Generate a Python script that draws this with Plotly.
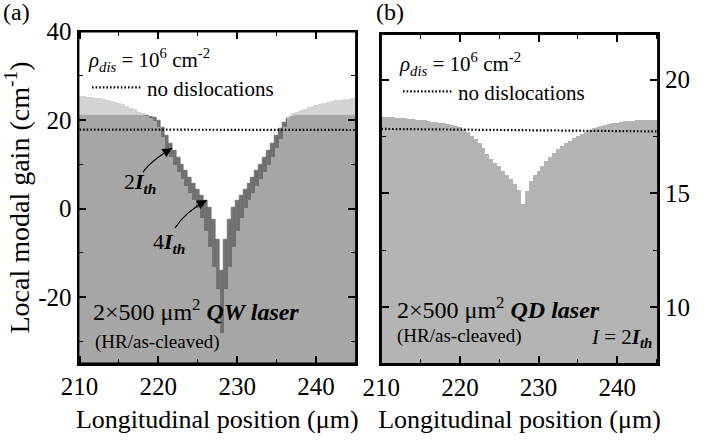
import plotly.graph_objects as go

# ---------------- data ----------------
pos = [210.0 + 0.5 * i for i in range(71)]  # bin centres (µm), 0.5 µm bins

gain_qw_2ith = [
    21.1, 21.1, 21.1, 21.1, 21.1, 21.1, 21.1, 21.1, 21.1, 21.1,   # 210-214.5
    21.1, 21.1, 21.1, 21.1, 21.1, 21.0, 21.0, 21.0, 20.9, 20.6,   # 215-219.5
    19.8, 18.4, 16.6, 14.8, 13.2, 11.6, 10.0, 8.5, 7.0, 5.6,      # 220-224.5
    4.3, 3.0, 1.8, 0.2, -2.5, -7.0, -14.0, -7.0, -2.5, 0.2,       # 225-229.5
    1.8, 3.0, 4.3, 5.6, 7.0, 8.5, 10.0, 11.6, 13.2, 14.8,         # 230-234.5
    16.4, 18.0, 19.4, 20.3, 20.8, 21.0, 21.0, 21.0, 21.0, 21.0,   # 235-239.5
    21.0, 21.0, 21.0, 21.0, 21.0, 21.0, 21.0, 21.0, 21.0, 21.0,   # 240-244.5
    21.0,                                                         # 245
]
gain_qw_4ith = [
    25.5, 25.5, 25.4, 25.3, 25.2, 25.0, 24.9, 24.7, 24.5, 24.3,   # 210-214.5
    24.0, 23.7, 23.3, 22.9, 22.5, 22.0, 21.6, 21.1, 20.6, 20.0,   # 215-219.5
    18.6, 16.2, 13.9, 11.8, 10.0, 8.3, 6.7, 5.1, 3.6, 2.0,        # 220-224.5
    0.3, -2.0, -5.0, -8.5, -13.0, -18.0, -28.0, -18.0, -13.0, -8.5,  # 225-229.5
    -5.0, -2.0, 0.3, 2.0, 3.6, 5.1, 6.7, 8.3, 10.0, 11.8,         # 230-234.5
    13.7, 15.8, 18.5, 21.0, 21.6, 22.0, 22.3, 22.6, 23.0, 23.3,   # 235-239.5
    23.5, 23.8, 24.0, 24.2, 24.4, 24.6, 24.7, 24.8, 24.9, 25.0,   # 240-244.5
    25.1,                                                         # 245
]
gain_qd_2ith = [
    18.38, 18.37, 18.36, 18.35, 18.33, 18.32, 18.30, 18.28, 18.26, 18.24,  # 210-214.5
    18.22, 18.20, 18.17, 18.15, 18.12, 18.10, 18.07, 18.04, 18.01, 17.97,  # 215-219.5
    17.92, 17.84, 17.70, 17.53, 17.37, 17.19, 17.00, 16.73, 16.52, 16.35,  # 220-224.5
    16.18, 16.00, 15.82, 15.65, 15.40, 15.13, 14.54, 15.10, 15.55, 15.80,  # 225-229.5
    16.00, 16.20, 16.40, 16.59, 16.78, 16.94, 17.07, 17.20, 17.32, 17.42,  # 230-234.5
    17.51, 17.60, 17.70, 17.79, 17.86, 17.92, 17.97, 18.01, 18.05, 18.08,  # 235-239.5
    18.11, 18.14, 18.16, 18.18, 18.19, 18.20, 18.21, 18.22, 18.23, 18.24,  # 240-244.5
    18.24,                                                                 # 245
]
nodis_pos = [210.0, 227.5, 245.0]
nodis_qw = [17.85, 17.8, 17.75]
nodis_qd = [17.83, 17.78, 17.72]

xtick_vals = [210, 220, 230, 240]
xtick_text = ["210", "220", "230", "240"]
ya_tick_vals = [-20, 0, 20, 40]
ya_tick_text = ["-20", "0", "20", "40"]
yb_tick_vals = [10, 15, 20]
yb_tick_text = ["10", "15", "20"]

YA_RANGE = [-35, 40]
YB_RANGE = [7.5, 22]
XA_RANGE = [209.87, 245.08]
XB_RANGE = [209.96, 245.2]

FONT = "Times New Roman, Liberation Serif, serif"
W, H = 715, 440
ML, MR, MT, MB = 78, 57, 31, 76
PW, PH = W - ML - MR, H - MT - MB

fig = go.Figure()

# panel (a): 2 I_th bars (dark), 4 I_th bars (translucent light) on top
fig.add_trace(go.Bar(
    x=pos, y=[v - YA_RANGE[0] for v in gain_qw_2ith], base=YA_RANGE[0], width=0.5,
    marker=dict(color="rgb(116,116,116)", line=dict(color="rgb(98,98,98)", width=0.6)),
    xaxis="x", yaxis="y", showlegend=False, hoverinfo="skip"))
fig.add_trace(go.Bar(
    x=pos, y=[v - YA_RANGE[0] for v in gain_qw_4ith], base=YA_RANGE[0], width=0.5,
    marker=dict(color="rgb(192,192,192)", line=dict(width=0)), opacity=0.68,
    xaxis="x", yaxis="y", showlegend=False, hoverinfo="skip"))
fig.add_trace(go.Scatter(
    x=nodis_pos, y=nodis_qw, mode="lines", name="no dislocations",
    line=dict(color="black", width=2.2, dash="1.6px,2px"),
    xaxis="x", yaxis="y", legend="legend", hoverinfo="skip"))

# panel (b)
fig.add_trace(go.Bar(
    x=pos, y=[v - YB_RANGE[0] for v in gain_qd_2ith], base=YB_RANGE[0], width=0.5,
    marker=dict(color="rgb(180,180,180)", line=dict(width=0)),
    xaxis="x2", yaxis="y2", showlegend=False, hoverinfo="skip"))
fig.add_trace(go.Scatter(
    x=nodis_pos, y=nodis_qd, mode="lines", name="no dislocations",
    line=dict(color="black", width=2.2, dash="1.6px,2px"),
    xaxis="x2", yaxis="y2", legend="legend2", hoverinfo="skip"))

def px_x(p):
    return (p - ML) / PW

def px_y(p):
    return 1 - (p - MT) / PH

axis_common = dict(
    showline=True, linecolor="black", linewidth=1.8, mirror="ticks",
    ticks="inside", ticklen=8, tickwidth=1.5, tickcolor="black",
    showgrid=False, zeroline=False, automargin=False, layer="above traces",
    tickfont=dict(family=FONT, size=25, color="black"),
    title_font=dict(family=FONT, size=26, color="black"),
)
minor_common = dict(ticks="inside", ticklen=5, tickwidth=1.3, tickcolor="black", tick0=0)

fig.update_layout(
    width=W, height=H, autosize=False,
    margin=dict(l=ML, r=MR, t=MT, b=MB, autoexpand=False),
    paper_bgcolor="white", plot_bgcolor="white",
    barmode="overlay", bargap=0,
    font=dict(family=FONT, color="black"),
    xaxis=dict(domain=[px_x(78.5), px_x(356)], range=XA_RANGE, anchor="y",
               tickvals=xtick_vals, ticktext=xtick_text,
               minor=dict(dtick=5, **minor_common),
               title=dict(text="Longitudinal position (μm)", standoff=10),
               **axis_common),
    yaxis=dict(domain=[px_y(363.5), px_y(31.5)], range=YA_RANGE, anchor="x",
               tickvals=ya_tick_vals, ticktext=ya_tick_text,
               minor=dict(dtick=10, **minor_common),
               title=dict(text="Local modal gain (cm<sup>-1</sup>)", standoff=6,
                          font=dict(family=FONT, size=28, color="black")),
               **{k: v for k, v in axis_common.items() if k != "title_font"}),
    xaxis2=dict(domain=[px_x(381), px_x(658)], range=XB_RANGE, anchor="y2",
                tickvals=xtick_vals, ticktext=xtick_text,
                minor=dict(dtick=5, **minor_common),
                title=dict(text="Longitudinal position (μm)", standoff=10),
                **axis_common),
    yaxis2=dict(domain=[px_y(364), px_y(34)], range=YB_RANGE, anchor="x2", side="right",
                tickvals=yb_tick_vals, ticktext=yb_tick_text,
                minor=dict(dtick=2.5, **minor_common),
                **axis_common),
    legend=dict(x=px_x(87), y=px_y(40), xanchor="left", yanchor="top",
                bgcolor="rgba(0,0,0,0)", borderwidth=0, itemwidth=50,
                font=dict(family=FONT, size=21, color="black"),
                title=dict(text="<i>ρ</i><sub><i>dis</i></sub> = 10<sup>6</sup> cm<sup>-2</sup>",
                           font=dict(family=FONT, size=21, color="black"))),
    legend2=dict(x=px_x(398), y=px_y(44), xanchor="left", yanchor="top",
                 bgcolor="rgba(0,0,0,0)", borderwidth=0, itemwidth=50,
                 font=dict(family=FONT, size=21, color="black"),
                 title=dict(text="<i>ρ</i><sub><i>dis</i></sub> = 10<sup>6</sup> cm<sup>-2</sup>",
                            font=dict(family=FONT, size=21, color="black"))),
)

ann = []
def txt(text, xp, yp, size, xanchor="left", yanchor="middle"):
    ann.append(dict(text=text, x=px_x(xp), y=px_y(yp), xref="paper", yref="paper",
                    xanchor=xanchor, yanchor=yanchor, showarrow=False,
                    font=dict(family=FONT, size=size, color="black")))

txt("(a)", 1, 12, 24)
txt("(b)", 374, 12, 24)
txt("2×500 μm<sup>2</sup> <b><i>QW laser</i></b>", 91, 310, 24)
txt("(HR/as-cleaved)", 93, 342, 19)
txt("2×500 μm<sup>2</sup> <b><i>QD laser</i></b>", 395, 308, 24)
txt("(HR/as-cleaved)", 395, 336, 19)
txt("<i>I</i> = 2<b><i>I</i></b><sub><b><i>th</i></b></sub>", 654, 338, 21, xanchor="right")
txt("2<b><i>I</i></b><sub><b><i>th</i></b></sub>", 122, 183, 22)
txt("4<b><i>I</i></b><sub><b><i>th</i></b></sub>", 151, 243, 22)

# curved arrows in panel (a) data coordinates: start, control, tip
arrows = [
    ((218.06, 8.2), (218.95, 10.6), (221.74, 13.66)),
    ((222.12, -4.4), (223.3, -0.9), (226.14, 1.9)),
]
shapes = []
for (s, c, t) in arrows:
    shapes.append(dict(type="path", xref="x", yref="y",
                       path=f"M {s[0]},{s[1]} Q {c[0]},{c[1]} {t[0]},{t[1]}",
                       line=dict(color="black", width=1.2)))
    bx = t[0] - 0.25 * (t[0] - c[0])
    by = t[1] - 0.25 * (t[1] - c[1])
    ann.append(dict(x=t[0], y=t[1], ax=bx, ay=by, xref="x", yref="y", axref="x", ayref="y",
                    text="", showarrow=True, arrowhead=2, arrowsize=1.6, arrowwidth=1.2,
                    arrowcolor="black", standoff=0))

# plot frames
for xr, yr in (("x domain", "y domain"), ("x2 domain", "y2 domain")):
    shapes.append(dict(type="rect", xref=xr, yref=yr, x0=0, x1=1, y0=0, y1=1,
                       line=dict(color="black", width=1.8), fillcolor="rgba(0,0,0,0)",
                       layer="above"))

fig.update_layout(annotations=ann, shapes=shapes)
fig.write_html("out.html")
